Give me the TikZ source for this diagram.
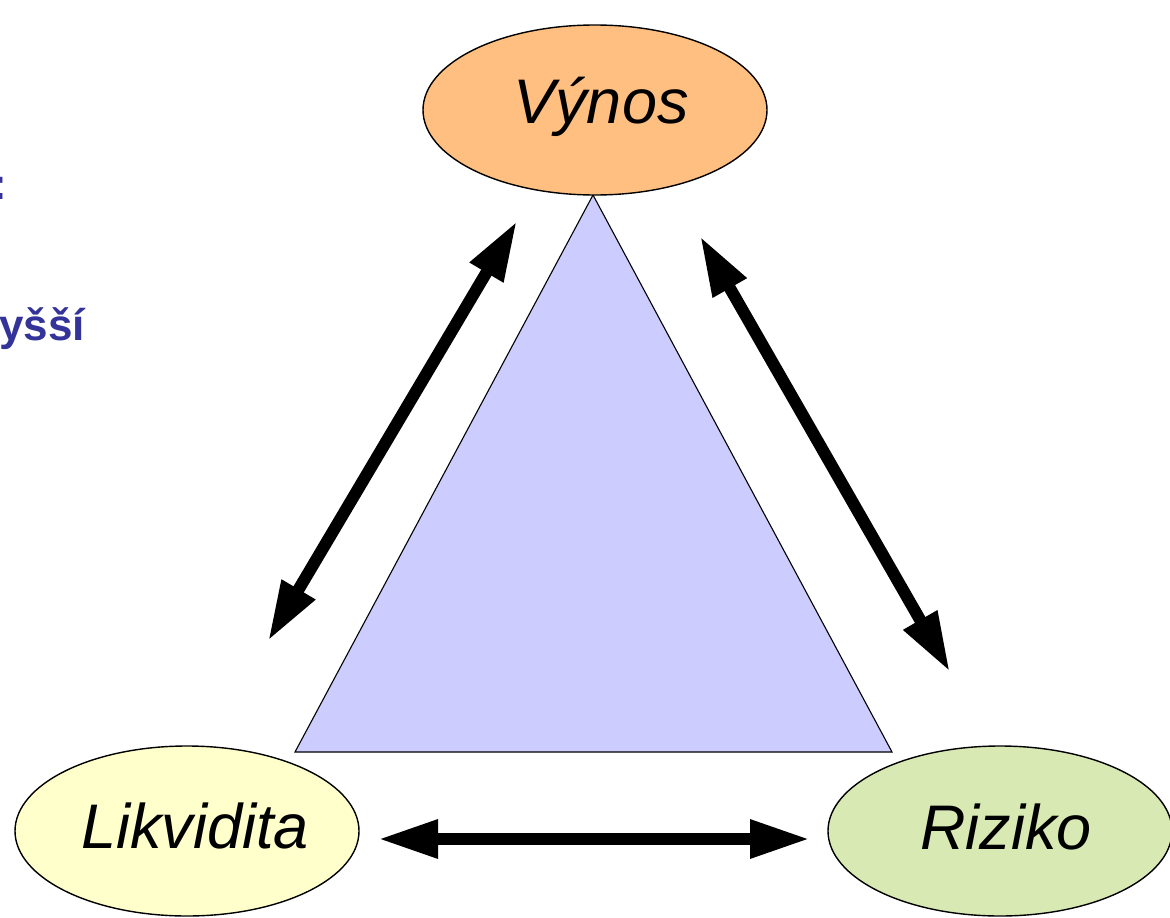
\documentclass[tikz,border=0pt]{standalone}
\usepackage{fontspec}
\setmainfont{Liberation Sans}
\usetikzlibrary{shapes.geometric,arrows.meta}
\definecolor{vynosfill}{HTML}{FFBF80}
\definecolor{likfill}{HTML}{FFFFCC}
\definecolor{rizfill}{HTML}{D8E9B3}
\definecolor{trifill}{HTML}{CCCCFF}
\definecolor{titleblue}{HTML}{333399}
\tikzset{
  corner/.style={ellipse, draw=black, line width=1.4pt, inner sep=0pt,
    minimum width=344pt, minimum height=170pt},
  cornertext/.style={anchor=base, inner sep=0pt,
    font=\fontsize{63}{70}\selectfont\itshape},
  bigarrow/.style={line width=12pt, {Triangle[length=60pt,width=36pt]}-{Triangle[length=60pt,width=36pt]}},
  sidetext/.style={inner sep=0pt, text=titleblue, font=\fontsize{44}{50}\selectfont\bfseries}
}
\begin{document}
\begin{tikzpicture}[x=1pt,y=-1pt]
  \useasboundingbox (0,0) rectangle (1170,918);
  \clip (0,0) rectangle (1170,918);
  % fragments of the heading text at the left margin
  \node[sidetext, anchor=base west] (colon) at (-7.6,199) {:};
  \node[sidetext, anchor=base east] (higher) at (85,340) {vyšší};
  % central triangle
  \coordinate (apex) at (593,195);
  \coordinate (bl) at (295,752);
  \coordinate (br) at (892,752);
  \fill[trifill] (apex) -- (bl) -- (br) -- cycle;
  \draw[line width=1.1pt, line join=miter] (apex) -- (bl) -- (br) -- cycle;
  % the three corners
  \node[corner, fill=vynosfill] (vynos) at (595,110) {};
  \node[corner, fill=likfill] (likv) at (187,831) {};
  \node[corner, fill=rizfill] (rizi) at (1000,831) {};
  \node[cornertext] (vynostext) at (601,123) {Výnos};
  \node[cornertext] (likvtext) at (195,848) {Likvidita};
  \node[cornertext] (rizitext) at (1006,849) {Riziko};
  % arrow ends
  \coordinate (lA) at (268,641);
  \coordinate (lB) at (517,221);
  \coordinate (rA) at (700,236);
  \coordinate (rB) at (950,672);
  \coordinate (bA) at (378,839);
  \coordinate (bB) at (810,839);
  \draw[bigarrow] (lA) -- (lB);
  \draw[bigarrow] (rA) -- (rB);
  \draw[bigarrow] (bA) -- (bB);
\end{tikzpicture}
\end{document}
